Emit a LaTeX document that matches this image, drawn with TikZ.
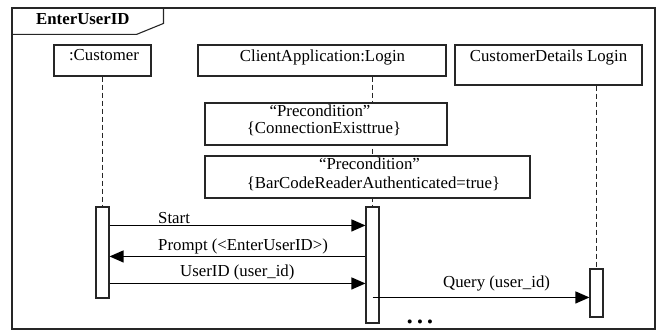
\documentclass[tikz,border=0pt]{standalone}
\usepackage{fontspec}
\setmainfont{Liberation Serif}
\usetikzlibrary{arrows.meta}
\begin{document}
\begin{tikzpicture}[x=1pt,y=-1pt,
  every node/.style={font=\fontsize{16.8}{17.5}\selectfont, inner sep=0pt},
  box/.style={draw=black!85, line width=1.1pt, fill=white, inner sep=0pt},
  lbl/.style={anchor=base west},
  ctr/.style={anchor=base},
  life/.style={draw=black!85, line width=1.1pt, dash pattern=on 5pt off 3pt},
  msg/.style={draw=black, line width=1.2pt, -{Triangle[length=14pt,width=12pt]}}]
\useasboundingbox (0,0) rectangle (663,331);
% frame
\node[box, fill=none, minimum width=643, minimum height=321] (frame) at (333.5,168.5) {};
\draw[draw=black!85, line width=1.1pt] ([xshift=152pt]frame.north west) -- ++(0,16) -- ++(-27,11) -- ([yshift=-27pt]frame.north west);
\node[lbl, font=\fontsize{16.8}{17.5}\selectfont\bfseries] (title) at (36,25) {EnterUserID};
% headers
\node[box, minimum width=97, minimum height=31] (cust) at (102.5,60.5) {};
\node[ctr] (custT) at (104,61) {:Customer};
\node[box, minimum width=248, minimum height=31] (client) at (322,60.5) {};
\node[ctr] (clientT) at (322.5,61.5) {ClientApplication:Login};
\node[box, minimum width=187, minimum height=40] (det) at (548.5,65) {};
\node[ctr] (detT) at (548.5,62) {CustomerDetails Login};
% activations
\node[box, minimum width=13, minimum height=91] (custAct) at (102.5,252.5) {};
\node[box, minimum width=13, minimum height=116] (clientAct) at (372.5,265) {};
\node[box, minimum width=13, minimum height=48] (detAct) at (596.5,293) {};
% lifelines
\draw[life] (cust.south) -- (custAct.north);
\draw[life] (clientAct.north |- client.south) -- (clientAct.north);
\draw[life] (detAct.north |- det.south) -- (detAct.north);
% preconditions
\node[box, minimum width=242, minimum height=42] (pre1) at (326,124) {};
\node[ctr] (pre1a) at (320,117) {“Precondition”};
\node[ctr] (pre1b) at (324,134) {\{ConnectionExisttrue\}};
\node[box, minimum width=325, minimum height=42] (pre2) at (367.5,177) {};
\node[ctr] (pre2a) at (369.5,170) {“Precondition”};
\node[ctr] (pre2b) at (373.5,188) {\{BarCodeReaderAuthenticated=true\}};
% messages
\draw[msg] ([yshift=-19pt]custAct.north east) -- ([yshift=-19pt]clientAct.north west);
\node[lbl] (mStart) at (158,223) {Start};
\draw[msg] ([yshift=-50pt]clientAct.north west) -- ([yshift=-50pt]custAct.north east);
\node[lbl] (mPrompt) at (158,250) {Prompt (<EnterUserID>)};
\draw[msg] ([yshift=-77pt]custAct.north east) -- ([yshift=-77pt]clientAct.north west);
\node[lbl] (mUser) at (180,276) {UserID (user\_id)};
\draw[msg] ([yshift=-91pt]clientAct.north) -- ([yshift=-29pt]detAct.north west);
\node[lbl] (mQuery) at (443,287) {Query (user\_id)};
\node[ctr] (dots) at (420,327.5) {• • •};
\end{tikzpicture}
\end{document}
